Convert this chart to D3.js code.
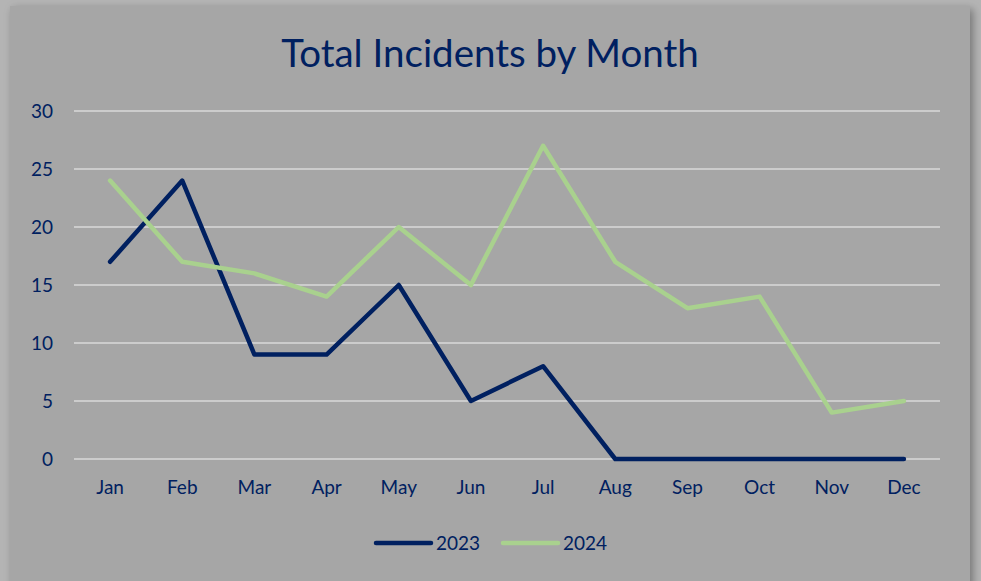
<!DOCTYPE html>
<html><head><meta charset="utf-8">
<script src="https://cdn.jsdelivr.net/npm/d3@7"></script>
<style>
html,body{margin:0;padding:0;background:#b4b4b4;}
svg{display:block;}
</style></head>
<body>
<svg id="c" width="981" height="581"></svg>
<script>
const months = ["Jan","Feb","Mar","Apr","May","Jun","Jul","Aug","Sep","Oct","Nov","Dec"];
const values2023 = [17,24,9,9,15,5,8,0,0,0,0,0];
const values2024 = [24,17,16,14,20,15,27,17,13,14,4,5];
const seriesNames = ["2023","2024"];
const seriesColors = ["#002060","#a9d18e"];
const yTicks = [0,5,10,15,20,25,30];

const svg = d3.select("#c");
const defs = svg.append("defs");
const f = defs.append("filter").attr("id","sh").attr("x","-5%").attr("y","-5%").attr("width","110%").attr("height","110%");
f.append("feDropShadow").attr("dx",3).attr("dy",3).attr("stdDeviation",4).attr("flood-color","#000").attr("flood-opacity",0.35);

svg.append("rect").attr("x",10).attr("y",6).attr("width",960).attr("height",600)
  .attr("fill","#a6a6a6").attr("filter","url(#sh)");

const font = "Lato, 'Open Sans', sans-serif";
const navy = "#002060";

svg.append("text").attr("x",490).attr("y",67).attr("text-anchor","middle")
  .attr("font-family",font).attr("font-size",38.5).attr("fill",navy).text("Total Incidents by Month");

const x = d3.scaleBand().domain(months).range([74,940]);
const y = d3.scaleLinear().domain([0,30]).range([459,111]);

const grid = svg.append("g");
grid.selectAll("line").data(yTicks).join("line")
  .attr("x1",74).attr("x2",940).attr("y1",d=>y(d)).attr("y2",d=>y(d))
  .attr("stroke","#d9d9d9").attr("stroke-width",1.5);

const yAxis = svg.append("g").attr("transform","translate(53,0)")
  .call(d3.axisLeft(y).tickValues(yTicks).tickSize(0).tickPadding(0));
yAxis.select(".domain").remove();
yAxis.selectAll("text").attr("font-family",font).attr("font-size",19).attr("fill",navy).attr("dy","0.35em");

const xAxis = svg.append("g").attr("transform","translate(0,459)")
  .call(d3.axisBottom(x).tickSize(0).tickPadding(22));
xAxis.select(".domain").remove();
xAxis.selectAll("text").attr("font-family",font).attr("font-size",19).attr("fill",navy);

const line = d3.line().x((d,i)=>x(months[i])+x.bandwidth()/2).y(d=>y(d));
[values2023, values2024].forEach((vals,k)=>{
  svg.append("path").datum(vals).attr("d",line).attr("fill","none")
    .attr("stroke",seriesColors[k]).attr("stroke-width",4.5)
    .attr("stroke-linejoin","round").attr("stroke-linecap","round");
});

const legendX = [376, 503];
const lg = svg.append("g");
seriesNames.forEach((n,k)=>{
  lg.append("line").attr("x1",legendX[k]).attr("x2",legendX[k]+55).attr("y1",543).attr("y2",543)
    .attr("stroke",seriesColors[k]).attr("stroke-width",4.5).attr("stroke-linecap","round");
  lg.append("text").attr("x",legendX[k]+60).attr("y",550).attr("font-family",font).attr("font-size",19)
    .attr("fill",navy).text(n);
});
</script>
</body></html>
